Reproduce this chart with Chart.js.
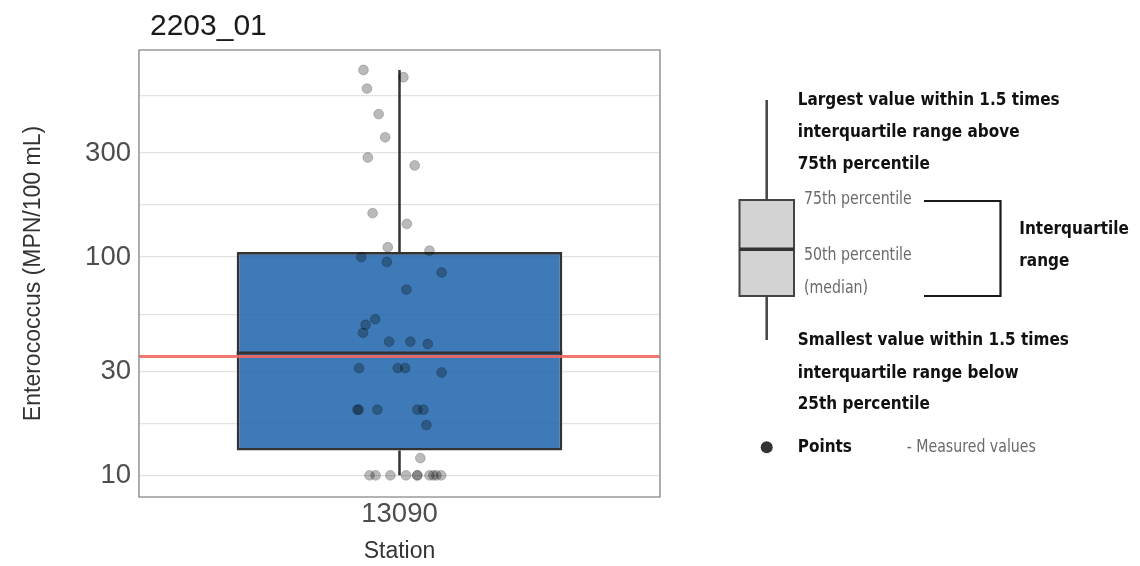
<!DOCTYPE html>
<html>
<head>
<meta charset="utf-8">
<script src="https://cdn.jsdelivr.net/npm/chart.js@4.4.1/dist/chart.umd.min.js"></script>
<style>
  html, body { margin: 0; padding: 0; background: #fff; }
  #wrap { width: 1140px; height: 566px; }
</style>
</head>
<body>
<div id="wrap"><canvas id="chart" width="1140" height="566"></canvas></div>
<script>
// Plot title and station (x category)
const plotTitle = '2203_01';
const stations = ['13090'];

// Measured Enterococcus values (MPN/100 mL), one per point
const results = [
  720, 667, 592, 452, 354, 286, 263, 159, 142, 111,
  107, 100, 95, 85, 71, 52, 49, 45, 41, 41,
  40, 31, 31, 31, 29.6, 20, 20, 20, 20, 20,
  17, 12, 10, 10, 10, 10, 10, 10, 10, 10,
  10, 10
];
// Horizontal jitter of each point (category units)
const jitter = [
  -0.083, 0.009, -0.075, -0.048, -0.033, -0.073, 0.035, -0.062, 0.017, -0.027,
  0.069, -0.088, -0.029, 0.097, 0.016, -0.056, -0.078, -0.084, -0.024, 0.025,
  0.065, -0.093, -0.004, 0.013, 0.097, -0.097, -0.094, -0.051, 0.041, 0.055,
  0.062, 0.048, -0.069, -0.055, -0.021, 0.015, 0.041, 0.041, 0.069, 0.078,
  0.085, 0.096
];

// Box statistics: lower whisker, 25th, median, 75th, upper whisker
const boxStats = [10, 13, 36.4, 105.4, 720];

// Reference line (MPN/100 mL)
const threshold = 35;

// Y axis breaks and limits
const majorBreaks = [10, 30, 100, 300];
const minorBreaks = [17.32, 54.77, 173.2, 547.7];
const yLimits = [7.96, 889];

// X axis layout (one category at 1)
const xLimits = [0.4, 1.6];
const boxWidth = 0.75;

const FONT = "'Liberation Sans', Arial, sans-serif";
const LEGEND_FONT = "'Liberation Sans Narrow', 'DejaVu Sans Condensed', 'DejaVu Sans', sans-serif";
const GRID = '#e2e2e2';
const DARK = '#333333';

Chart.defaults.font.family = FONT;

// Panel border, title and the explanatory legend on the right
const decorations = {
  id: 'decorations',
  afterDraw(chart) {
    const ctx = chart.ctx;
    const a = chart.chartArea;
    ctx.save();

    // panel border
    ctx.strokeStyle = '#8a8a8a';
    ctx.lineWidth = 1.3;
    ctx.strokeRect(a.left, a.top, a.right - a.left, a.bottom - a.top);

    // title
    ctx.fillStyle = '#1a1a1a';
    ctx.font = '30px ' + FONT;
    ctx.textBaseline = 'alphabetic';
    ctx.textAlign = 'left';
    ctx.fillText(plotTitle, 150, 35);

    // legend: schematic box
    const lx = 766.7;
    ctx.strokeStyle = '#444';
    ctx.lineWidth = 2.5;
    ctx.beginPath();
    ctx.moveTo(lx, 100); ctx.lineTo(lx, 200);
    ctx.moveTo(lx, 296); ctx.lineTo(lx, 340);
    ctx.stroke();
    ctx.fillStyle = '#d3d3d3';
    ctx.fillRect(739.5, 200, 54.5, 96);
    ctx.lineWidth = 2;
    ctx.strokeRect(739.5, 200, 54.5, 96);
    ctx.lineWidth = 3.5;
    ctx.strokeStyle = '#333';
    ctx.beginPath();
    ctx.moveTo(739.5, 249.3); ctx.lineTo(794, 249.3);
    ctx.stroke();

    // bracket
    ctx.strokeStyle = '#1a1a1a';
    ctx.lineWidth = 2.2;
    ctx.beginPath();
    ctx.moveTo(924, 201); ctx.lineTo(1000.5, 201); ctx.lineTo(1000.5, 296); ctx.lineTo(924, 296);
    ctx.stroke();

    // legend point
    ctx.fillStyle = '#333';
    ctx.beginPath();
    ctx.arc(lx, 447.3, 6, 0, Math.PI * 2);
    ctx.fill();

    // legend texts, squeezed horizontally to look like a condensed face
    ctx.textBaseline = 'middle';
    const boldFont = 'bold 18px ' + LEGEND_FONT;
    const lightFont = '18px ' + LEGEND_FONT;
    ctx.font = boldFont;
    const boldSqueeze = 262 / ctx.measureText('Largest value within 1.5 times').width;
    ctx.font = lightFont;
    const lightSqueeze = 107.7 / ctx.measureText('75th percentile').width;
    const draw = (t, x, y, font, color, sx) => {
      ctx.save();
      ctx.font = font;
      ctx.fillStyle = color;
      ctx.translate(x, y);
      ctx.scale(sx, 1);
      ctx.fillText(t, 0, 0);
      ctx.restore();
    };
    const bold = (t, x, y) => draw(t, x, y, boldFont, '#111', boldSqueeze);
    const light = (t, x, y) => draw(t, x, y, lightFont, '#6a6a6a', lightSqueeze);
    bold('Largest value within 1.5 times', 797.7, 100);
    bold('interquartile range above', 797.7, 132.5);
    bold('75th percentile', 797.7, 164);
    light('75th percentile', 804, 199);
    light('50th percentile', 804, 255.5);
    light('(median)', 804, 288);
    bold('Interquartile', 1019.3, 229);
    bold('range', 1019.3, 261);
    bold('Smallest value within 1.5 times', 797.7, 340);
    bold('interquartile range below', 797.7, 373);
    bold('25th percentile', 797.7, 404);
    bold('Points', 797.7, 447);
    light('- Measured values', 906.7, 447);

    ctx.restore();
  }
};

const xCenter = 1;

new Chart(document.getElementById('chart'), {
  type: 'scatter',
  data: {
    datasets: [
      {
        type: 'scatter',
        label: 'Measured values',
        data: results.map((v, i) => ({ x: xCenter + jitter[i], y: v })),
        backgroundColor: 'rgba(0,0,0,0.27)',
        borderColor: 'rgba(0,0,0,0.2)',
        borderWidth: 1,
        pointRadius: 4.9,
        pointHoverRadius: 4.9,
        order: 0
      },
      {
        type: 'line',
        label: 'Threshold',
        data: [{ x: xLimits[0], y: threshold }, { x: xLimits[1], y: threshold }],
        borderColor: 'rgba(240,104,98,0.9)',
        borderWidth: 3,
        pointRadius: 0,
        order: 1
      },
      {
        type: 'line',
        label: 'Median',
        data: [
          { x: xCenter - boxWidth / 2, y: boxStats[2] },
          { x: xCenter + boxWidth / 2, y: boxStats[2] }
        ],
        borderColor: DARK,
        borderWidth: 3,
        pointRadius: 0,
        order: 2
      },
      {
        type: 'bar',
        label: 'Interquartile range',
        data: [{ x: xCenter, y: [boxStats[1], boxStats[3]] }],
        backgroundColor: 'rgba(33,102,172,0.87)',
        borderColor: DARK,
        borderWidth: 2.6,
        borderSkipped: false,
        categoryPercentage: 1,
        barPercentage: boxWidth / (xLimits[1] - xLimits[0]),
        order: 3
      },
      {
        type: 'line',
        label: 'Whiskers',
        data: [
          { x: xCenter, y: boxStats[0] },
          { x: xCenter, y: boxStats[1] },
          { x: xCenter, y: null },
          { x: xCenter, y: boxStats[3] },
          { x: xCenter, y: boxStats[4] }
        ],
        borderColor: DARK,
        borderWidth: 2.5,
        pointRadius: 0,
        spanGaps: false,
        order: 4
      }
    ]
  },
  options: {
    responsive: false,
    animation: false,
    layout: { padding: { top: 50, right: 480, left: 0, bottom: 0 } },
    plugins: {
      legend: { display: false },
      title: { display: false },
      tooltip: { enabled: false }
    },
    scales: {
      x: {
        type: 'linear',
        min: xLimits[0],
        max: xLimits[1],
        offset: false,
        afterBuildTicks: scale => { scale.ticks = stations.map((s, i) => ({ value: i + 1 })); },
        ticks: {
          callback: value => stations[Math.round(value) - 1] || '',
          font: { size: 27.5 },
          color: '#4d4d4d',
          padding: 1,
          autoSkip: false,
          maxRotation: 0
        },
        grid: { color: GRID, lineWidth: 1.3, drawTicks: false },
        border: { display: false },
        title: {
          display: true,
          text: 'Station',
          font: { size: 23 },
          color: DARK,
          padding: { top: 0, bottom: 1 }
        },
        afterFit: scale => { scale.height = 69; }
      },
      y: {
        type: 'logarithmic',
        min: yLimits[0],
        max: yLimits[1],
        afterBuildTicks: scale => {
          scale.ticks = majorBreaks.concat(minorBreaks).sort((a, b) => a - b).map(v => ({ value: v }));
        },
        ticks: {
          callback: value => majorBreaks.includes(value) ? String(value) : '',
          font: { size: 27.5 },
          color: '#4d4d4d',
          padding: 8,
          autoSkip: false
        },
        grid: { color: GRID, lineWidth: 1.3, drawTicks: false },
        border: { display: false },
        title: {
          display: true,
          text: 'Enterococcus (MPN/100 mL)',
          font: { size: 23 },
          color: DARK,
          padding: { top: 20, bottom: 0 }
        },
        afterFit: scale => { scale.width = 139; }
      }
    }
  },
  plugins: [decorations]
});
</script>
</body>
</html>
